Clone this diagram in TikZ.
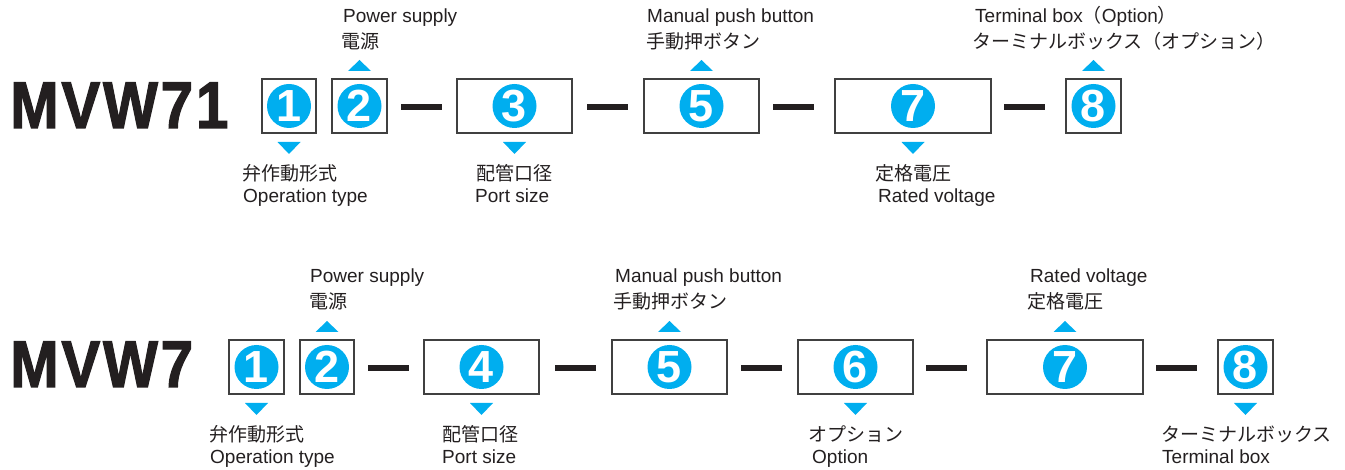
\documentclass[tikz,border=0pt]{standalone}
\usepackage{fontspec}
\usepackage{graphicx}
\setmainfont{Liberation Sans}
\newfontfamily\jp{Noto Sans CJK JP}
\newfontfamily\heavy[FakeBold=2,LetterSpace=5]{Liberation Sans Bold}

\definecolor{cyanmark}{HTML}{00AEEF}
\definecolor{ink}{HTML}{231F20}

\tikzset{
  box/.style={draw=black!75, line width=1.2pt, minimum height=54pt, inner sep=0pt, outer sep=0pt},
  num/.style={circle, fill=cyanmark, text=white, minimum size=44pt, inner sep=0pt, font=\fontsize{45}{45}\selectfont\bfseries},
  bar/.style={fill=ink, minimum width=41pt, minimum height=6pt, inner sep=0pt},
  lab/.style={anchor=base west, inner sep=0pt, text=ink, font=\fontsize{19}{23}\selectfont},
  jlab/.style={lab, font=\fontsize{19}{23}\jp},
  tri/.style={fill=cyanmark},
  title/.style={anchor=base west, inner sep=0pt, text=ink, font=\fontsize{66}{66}\heavy}
}
% small cyan markers above / below a box
\newcommand\triup[1]{\fill[tri] ([yshift=8pt]#1.north) ++(-11.5,0) -- ++(23,0) -- ++(-11.5,-11) -- cycle;}
\newcommand\tridown[1]{\fill[tri] ([yshift=-9pt]#1.south) ++(-11.5,0) -- ++(23,0) -- ++(-11.5,12) -- cycle;}

\begin{document}
\begin{tikzpicture}[x=1pt,y=-1pt]
  \useasboundingbox (0,0) rectangle (1345,470);

  % MVW71
  \node[title] (t1) at (10,128) {\scalebox{0.88}[1]{MVW71}};
  \node[box, minimum width=54pt] (a1) at (289,106) {};
  \node[box, minimum width=55pt] (a2) at (359.5,106) {};
  \node[bar] (ad1) at (421.5,107) {};
  \node[box, minimum width=115pt] (a3) at (514.5,106) {};
  \node[bar] (ad2) at (607.5,107) {};
  \node[box, minimum width=115pt] (a5) at (701.5,106) {};
  \node[bar] (ad3) at (793.5,107) {};
  \node[box, minimum width=156pt] (a7) at (913,106) {};
  \node[bar] (ad4) at (1024.5,107) {};
  \node[box, minimum width=55pt] (a8) at (1093.5,106) {};
  \node[num] (an1) at (a1) {1};
  \node[num] (an2) at (a2) {2};
  \node[num] (an3) at (a3) {3};
  \node[num] (an5) at (a5) {5};
  \node[num] (an7) at (a7) {7};
  \node[num] (an8) at (a8) {8};
  \tridown{a1} \triup{a2} \tridown{a3} \triup{a5} \tridown{a7} \triup{a8}
  \node[lab] (a2en) at (343,23) {Power supply};
  \node[jlab] (a2jp) at (341,48.5) {電源};
  \node[lab] (a5en) at (647,23) {Manual push button};
  \node[jlab] (a5jp) at (646,48.5) {手動押ボタン};
  \node[lab] (a8en) at (975,23) {Terminal box{\jp （}Option{\jp ）}};
  \node[jlab] (a8jp) at (972,48.5) {ターミナルボックス（オプション）};
  \node[jlab] (a1jp) at (242,181) {弁作動形式};
  \node[lab] (a1en) at (243,203) {Operation type};
  \node[jlab] (a3jp) at (476,181) {配管口径};
  \node[lab] (a3en) at (475,203) {Port size};
  \node[jlab] (a7jp) at (875,181) {定格電圧};
  \node[lab] (a7en) at (878,203) {Rated voltage};

  % MVW7
  \node[title] (t2) at (10,387) {\scalebox{0.88}[1]{MVW7}};
  \node[box, minimum width=55pt] (b1) at (256.5,367) {};
  \node[box, minimum width=54pt] (b2) at (327,367) {};
  \node[bar] (bd1) at (388.5,368) {};
  \node[box, minimum width=115pt] (b4) at (481.5,367) {};
  \node[bar] (bd2) at (575.5,368) {};
  \node[box, minimum width=115pt] (b5) at (669.5,367) {};
  \node[bar] (bd3) at (761.5,368) {};
  \node[box, minimum width=115pt] (b6) at (855.5,367) {};
  \node[bar] (bd4) at (946.5,368) {};
  \node[box, minimum width=156pt] (b7) at (1065,367) {};
  \node[bar] (bd5) at (1176.5,368) {};
  \node[box, minimum width=55pt] (b8) at (1245.5,367) {};
  \node[num] (bn1) at (b1) {1};
  \node[num] (bn2) at (b2) {2};
  \node[num] (bn4) at (b4) {4};
  \node[num] (bn5) at (b5) {5};
  \node[num] (bn6) at (b6) {6};
  \node[num] (bn7) at (b7) {7};
  \node[num] (bn8) at (b8) {8};
  \tridown{b1} \triup{b2} \tridown{b4} \triup{b5} \tridown{b6} \triup{b7} \tridown{b8}
  \node[lab] (b2en) at (310,283) {Power supply};
  \node[jlab] (b2jp) at (309,309) {電源};
  \node[lab] (b5en) at (615,283) {Manual push button};
  \node[jlab] (b5jp) at (613,309) {手動押ボタン};
  \node[lab] (b7en) at (1030,283) {Rated voltage};
  \node[jlab] (b7jp) at (1027,309) {定格電圧};
  \node[jlab] (b1jp) at (209,442) {弁作動形式};
  \node[lab] (b1en) at (210,463) {Operation type};
  \node[jlab] (b4jp) at (442,442) {配管口径};
  \node[lab] (b4en) at (442,463) {Port size};
  \node[jlab] (b6jp) at (808,442) {オプション};
  \node[lab] (b6en) at (812,463) {Option};
  \node[jlab] (b8jp) at (1161,442) {ターミナルボックス};
  \node[lab] (b8en) at (1162,463) {Terminal box};
\end{tikzpicture}
\end{document}
